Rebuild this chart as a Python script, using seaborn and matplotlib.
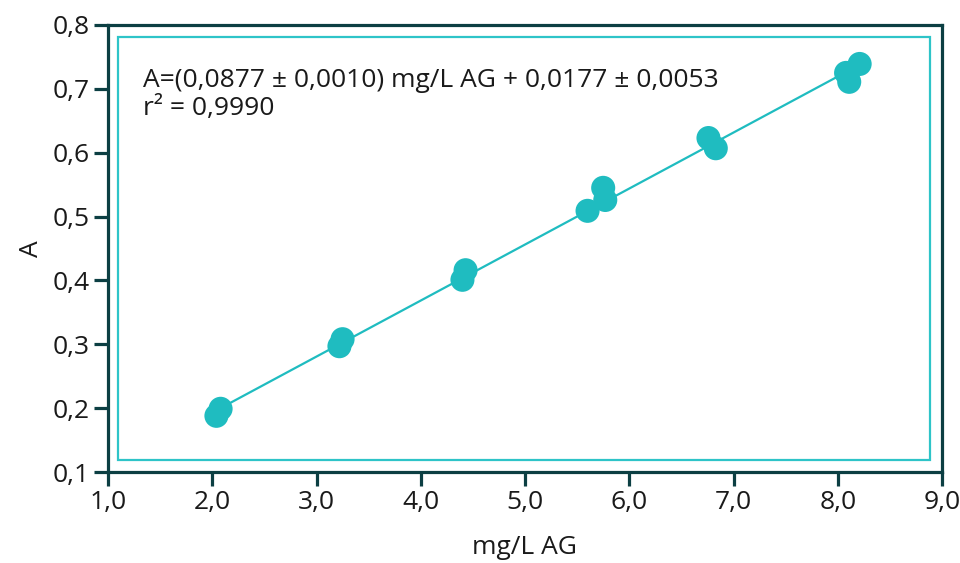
import numpy as np
import pandas as pd
import seaborn as sns
import matplotlib.pyplot as plt
from matplotlib.patches import Rectangle
from matplotlib.ticker import FuncFormatter

# calibration data
conc = [2.04, 2.08, 3.22, 3.25, 4.40, 4.43, 5.60, 5.75, 5.77, 6.76, 6.83, 8.08, 8.11, 8.21]
absorb = [0.188, 0.199, 0.297, 0.308, 0.401, 0.416, 0.509, 0.545, 0.526, 0.623, 0.607, 0.725, 0.711, 0.739]

slope = 0.0877
intercept = 0.0177
eq_text = "A=(0,0877 ± 0,0010) mg/L AG + 0,0177 ± 0,0053\nr² = 0,9990"

xticks = [1.0, 2.0, 3.0, 4.0, 5.0, 6.0, 7.0, 8.0, 9.0]
yticks = [0.1, 0.2, 0.3, 0.4, 0.5, 0.6, 0.7, 0.8]

teal = "#1fbcc0"
dark = "#0c3f43"
txt = "#1a1a1a"

sns.set_theme(style="white")
plt.rcParams['font.family'] = ['Open Sans', 'DejaVu Sans']

df = pd.DataFrame({"x": conc, "y": absorb})
fit_x = np.array([min(conc) + 0.02, max(conc)])
fit = pd.DataFrame({"x": fit_x, "y": slope * fit_x + intercept})

fig = plt.figure(figsize=(9.6, 5.63), dpi=100)
ax = fig.add_axes([0.1125, 0.1616, 0.86875, 0.794])

sns.lineplot(data=fit, x="x", y="y", color=teal, lw=1.6, ax=ax, zorder=2)
sns.scatterplot(data=df, x="x", y="y", color=teal, s=300, edgecolor="none", ax=ax, zorder=3)

# inner frame
ax.add_patch(Rectangle((1.096, 0.1188), 8.885 - 1.096, 0.781 - 0.1188,
                       fill=False, ec="#2ec4c8", lw=1.6, zorder=1))

ax.text(0.042, 0.903, eq_text, transform=ax.transAxes, ha="left", va="top",
        fontsize=19, color=txt, linespacing=1.15)

ax.set_xlim(1.0, 9.0)
ax.set_ylim(0.1, 0.8)
ax.set_xticks(xticks)
ax.set_yticks(yticks)
fmt = FuncFormatter(lambda v, p: f"{v:.1f}".replace(".", ","))
ax.xaxis.set_major_formatter(fmt)
ax.yaxis.set_major_formatter(fmt)

for s in ax.spines.values():
    s.set_color(dark)
    s.set_linewidth(2.3)
ax.tick_params(axis="both", direction="out", length=10, width=2.3, color=dark,
               labelsize=19, labelcolor=txt, pad=3, bottom=True, left=True)

ax.set_xlabel("mg/L AG", fontsize=19, color=txt, labelpad=14)
ax.set_ylabel("A", fontsize=19, color=txt, labelpad=6)

fig.savefig("out.png", dpi=100)
